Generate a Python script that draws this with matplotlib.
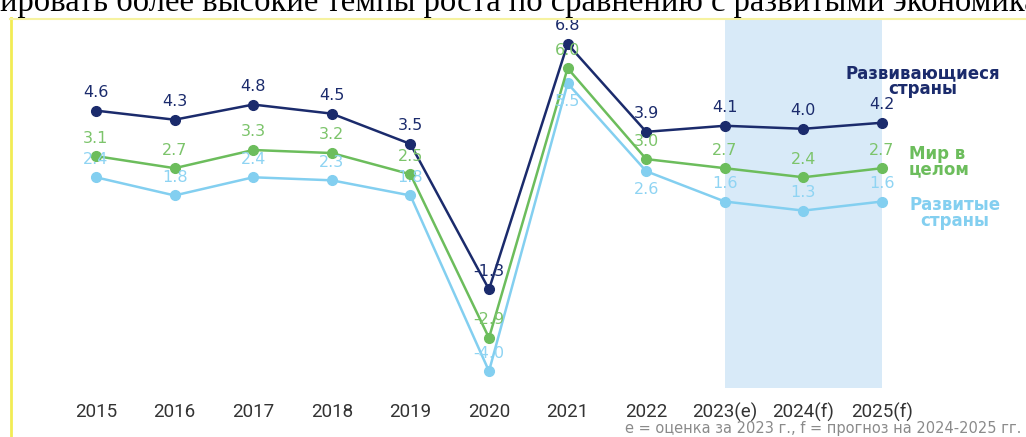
import matplotlib.pyplot as plt
from matplotlib.lines import Line2D

# Data
years = ['2015', '2016', '2017', '2018', '2019', '2020', '2021', '2022', '2023(e)', '2024(f)', '2025(f)']
developing = [4.6, 4.3, 4.8, 4.5, 3.5, -1.3, 6.8, 3.9, 4.1, 4.0, 4.2]
world = [3.1, 2.7, 3.3, 3.2, 2.5, -2.9, 6.0, 3.0, 2.7, 2.4, 2.7]
developed = [2.4, 1.8, 2.4, 2.3, 1.8, -4.0, 5.5, 2.6, 1.6, 1.3, 1.6]
# labels of developed countries drawn below the point
developed_below = ['2021', '2022']

C_DARK = '#1b2b6c'
C_GREEN = '#6cbd5c'
C_LIGHT = '#83cff0'
C_BAND = '#d8eaf8'

W, H = 1026, 437
fig = plt.figure(figsize=(W / 100, H / 100), dpi=100)
ax = fig.add_axes([0, 0, 1, 1])
ax.axis('off')

# pixel mapping: x index 0 -> 96px, step 78.6px; y 0 -> 250px, 30.3 px per unit
x0, dx = 96, 78.6
y0, dy = 250, 30.3
ax.set_xlim(-x0 / dx, (W - x0) / dx)
ax.set_ylim((y0 - H) / dy, y0 / dy)

x = list(range(len(years)))

# forecast band
i_start = years.index('2023(e)')
ax.axvspan(i_start, len(years) - 1, ymin=(H - 388) / H, ymax=(H - 19) / H,
           color=C_BAND, lw=0, zorder=0)

series = [
    (developed, C_LIGHT, '#8fd4f3'),
    (world, C_GREEN, '#7cc46b'),
    (developing, C_DARK, C_DARK),
]
for vals, col, lcol in series:
    ax.plot(x, vals, color=col, lw=1.8, marker='o', ms=7, zorder=3)
    for i, v in enumerate(vals):
        off = 13
        if vals is developed and years[i] in developed_below:
            off = -13
        ax.annotate(f'{v:.1f}', (i, v), xytext=(0, off), textcoords='offset points',
                    ha='center', va='center', fontsize=11.5, color=lcol, zorder=4)

# year labels
for i, yr in enumerate(years):
    ax.text(i, (y0 - 412) / dy, yr, ha='center', va='center',
            fontsize=13.5, family='Roboto', color='#333333')

# series names
fig.text(923 / W, 1 - 81 / H, 'Развивающиеся\nстраны', ha='center', va='center',
         fontsize=12, fontweight='bold', color=C_DARK, linespacing=0.8)
fig.text(909 / W, 1 - 162 / H, 'Мир в\nцелом', ha='left', va='center',
         fontsize=12, fontweight='bold', color=C_GREEN, linespacing=0.8)
fig.text(955 / W, 1 - 213 / H, 'Развитые\nстраны', ha='center', va='center',
         fontsize=12, fontweight='bold', color=C_LIGHT, linespacing=0.8)

# footnote
fig.text(1021 / W, 1 - 428 / H, 'е = оценка за 2023 г., f = прогноз на 2024-2025 гг.',
         ha='right', va='center', fontsize=10.5, color='#8a8a8a')

# cut-off text line at the top and frame
fig.text(0, 1 - 11 / H, 'ировать более высокие темпы роста по сравнению с развитыми экономика',
         ha='left', va='baseline', fontsize=23.5, family='Liberation Serif', color='black')
fig.add_artist(Line2D([10.5 / W, 10.5 / W], [0, 1 - 18 / H], color='#f2ec55', lw=2))
fig.add_artist(Line2D([10 / W, 1], [1 - 18.5 / H, 1 - 18.5 / H], color='#f6f2a0', lw=1.5))

fig.savefig('out.png', dpi=100)
